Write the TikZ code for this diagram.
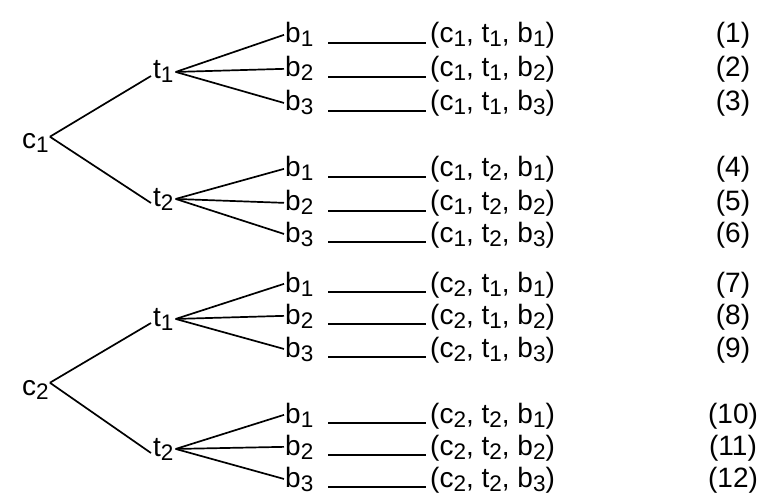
\documentclass[tikz,border=0pt]{standalone}
\usepackage{fontspec}
\setmainfont{Liberation Sans}
\newcommand\ix[1]{\raisebox{-4pt}{\fontsize{22.5}{22.5}\selectfont #1}}
\begin{document}
\begin{tikzpicture}[x=1pt,y=-1pt,
  lab/.style={inner sep=0pt, anchor=base west, font=\fontsize{28}{32}\selectfont},
  num/.style={inner sep=0pt, anchor=base, font=\fontsize{28}{32}\selectfont},
  edge/.style={line width=1.7pt},
  dashl/.style={line width=1.5pt, shorten <=43pt, shorten >=4pt}]
\useasboundingbox (0,0) rectangle (757,497);
\node[lab] (c1) at (22,149) {c\ix{1}};
\node[lab] (c2) at (22,395) {c\ix{2}};
\node[lab] (ta) at (153,79) {t\ix{1}};
\node[lab] (tb) at (153,206) {t\ix{2}};
\node[lab] (tc) at (153,326) {t\ix{1}};
\node[lab] (td) at (153,456) {t\ix{2}};
\foreach \c/\t in {c1/ta, c1/tb, c2/tc, c2/td}
  \draw[edge] ([xshift=1pt,yshift=-3pt]\c.north east) -- ([xshift=-2pt,yshift=3pt]\t.base west);
\foreach \n/\y/\cc/\tt/\bb/\p in {1/43/1/1/1/ta, 2/77/1/1/2/ta, 3/111/1/1/3/ta,
    4/177/1/2/1/tb, 5/211/1/2/2/tb, 6/242/1/2/3/tb,
    7/292/2/1/1/tc, 8/324/2/1/2/tc, 9/357/2/1/3/tc,
    10/423/2/2/1/td, 11/455/2/2/2/td, 12/487/2/2/3/td}{
  \node[lab] (b\n) at (285,\y) {b\ix{\bb}};
  \node[lab] (r\n) at (430,\y) {(c\ix{\cc}, t\ix{\tt}, b\ix{\bb})};
  \node[num] (n\n) at (733,\y) {(\n)};
  \draw[edge] ([xshift=2pt]\p.east) -- ([xshift=-1pt]b\n.west);
  \draw[dashl] (b\n.base west) -- (r\n.base west);
}
\end{tikzpicture}
\end{document}
